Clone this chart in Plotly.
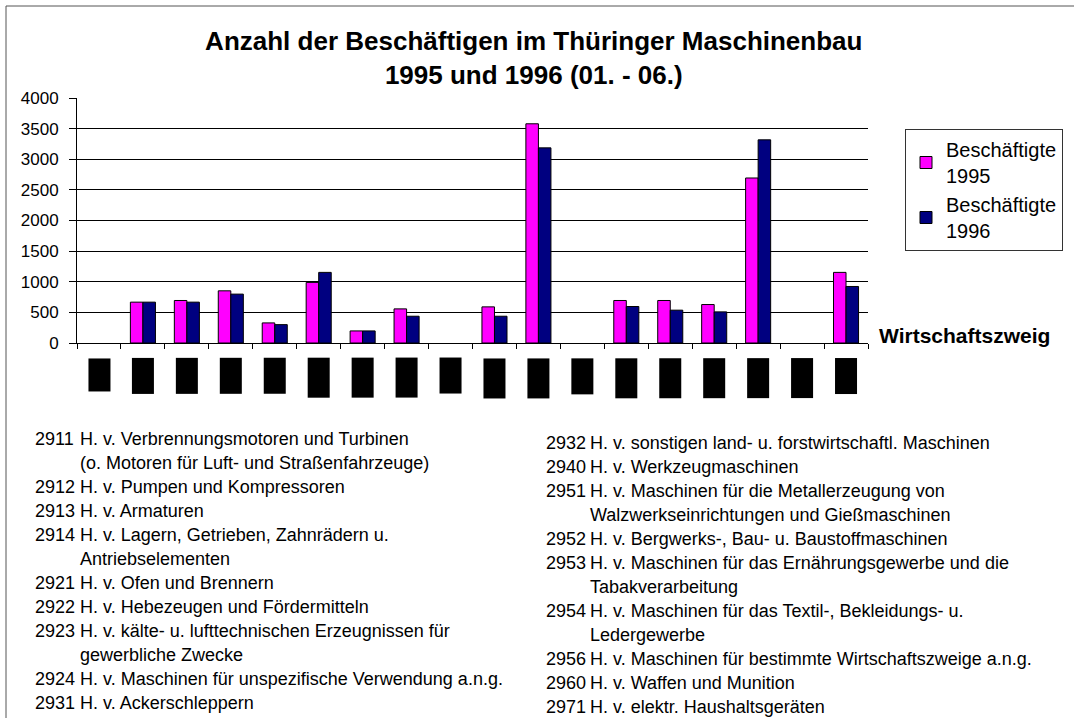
import plotly.graph_objects as go

# ---------------- data ----------------
codes = ["2911", "2912", "2913", "2914", "2921", "2922", "2923", "2924", "2931",
         "2932", "2940", "2951", "2952", "2953", "2954", "2956", "2960", "2971"]
beschaeftigte_1995 = [None, 667, 694, 852, 328, 989, 197, 557, None,
                      590, 3579, None, 694, 694, 628, 2694, None, 1153]
beschaeftigte_1996 = [None, 667, 667, 798, 300, 1153, 197, 437, None,
                      437, 3186, None, 596, 536, 508, 3317, None, 923]
y_ticks = [0, 500, 1000, 1500, 2000, 2500, 3000, 3500, 4000]

title_text = "Anzahl der Beschäftigen im Thüringer Maschinenbau<br>1995 und 1996 (01. - 06.)"
series_names = ["Beschäftigte<br>1995", "Beschäftigte<br>1996"]
x_title = "Wirtschaftszweig"

legend_left = [
    ("2911", ["H. v. Verbrennungsmotoren und Turbinen", "(o. Motoren für Luft- und Straßenfahrzeuge)"]),
    ("2912", ["H. v. Pumpen und Kompressoren"]),
    ("2913", ["H. v. Armaturen"]),
    ("2914", ["H. v. Lagern, Getrieben, Zahnrädern u.", "Antriebselementen"]),
    ("2921", ["H. v. Ofen und Brennern"]),
    ("2922", ["H. v. Hebezeugen und Fördermitteln"]),
    ("2923", ["H. v. kälte- u. lufttechnischen Erzeugnissen für", "gewerbliche Zwecke"]),
    ("2924", ["H. v. Maschinen für unspezifische Verwendung a.n.g."]),
    ("2931", ["H. v. Ackerschleppern"]),
]
legend_right = [
    ("2932", ["H. v. sonstigen land- u. forstwirtschaftl. Maschinen"]),
    ("2940", ["H. v. Werkzeugmaschinen"]),
    ("2951", ["H. v. Maschinen für die Metallerzeugung von", "Walzwerkseinrichtungen und Gießmaschinen"]),
    ("2952", ["H. v. Bergwerks-, Bau- u. Baustoffmaschinen"]),
    ("2953", ["H. v. Maschinen für das Ernährungsgewerbe und die", "Tabakverarbeitung"]),
    ("2954", ["H. v. Maschinen für das Textil-, Bekleidungs- u.", "Ledergewerbe"]),
    ("2956", ["H. v. Maschinen für bestimmte Wirtschaftszweige a.n.g."]),
    ("2960", ["H. v. Waffen und Munition"]),
    ("2971", ["H. v. elektr. Haushaltsgeräten"]),
]

# ---------------- styles / layout ----------------
W, H = 1074, 718
PL, PR, PT, PB = 77, 868, 98, 343   # plot area in pixels
FONT = "Liberation Sans, Arial, sans-serif"
PINK = "#FF00FF"
NAVY = "#000080"
box_heights = [33, 36, 36, 36, 36, 40, 40, 40, 36, 40, 40, 36, 40, 40, 40, 40, 40, 36]


def px_x(px):
    return (px - PL) / (PR - PL)


def px_y(py):
    return (PB - py) / (PB - PT)


fig = go.Figure()
fig.add_trace(go.Bar(x=codes, y=beschaeftigte_1995, name=series_names[0],
                     marker=dict(color=PINK, line=dict(color="black", width=1))))
fig.add_trace(go.Bar(x=codes, y=beschaeftigte_1996, name=series_names[1],
                     marker=dict(color=NAVY, line=dict(color="black", width=1))))

annotations = []
# black label boxes below the category axis (x = category position index)
for i, (code, h) in enumerate(zip(codes, box_heights)):
    annotations.append(dict(
        x=i, xref="x", y=px_y(358), yref="paper", yanchor="top", xanchor="center",
        text=code, textangle=-90, width=h, height=22, bgcolor="black",
        borderpad=0, borderwidth=0, showarrow=False,
        font=dict(family=FONT, size=10, color="black")))

# axis title at the right end of the category axis
annotations.append(dict(
    x=px_x(877), xref="paper", y=px_y(335), yref="paper", xanchor="left", yanchor="middle",
    text="<b>" + x_title + "</b>", showarrow=False,
    font=dict(family=FONT, size=21, color="black")))

# explanatory code list
FS = 18
PITCH = 24


def add_column(entries, x_code, x_text, y_first):
    row = 0
    for code, lines in entries:
        y = y_first + row * PITCH
        annotations.append(dict(x=px_x(x_code), xref="paper", y=px_y(y), yref="paper",
                                xanchor="left", yanchor="middle", text=code, showarrow=False,
                                font=dict(family=FONT, size=FS, color="black")))
        for ln in lines:
            y = y_first + row * PITCH
            annotations.append(dict(x=px_x(x_text), xref="paper", y=px_y(y), yref="paper",
                                    xanchor="left", yanchor="middle", text=ln, showarrow=False,
                                    font=dict(family=FONT, size=FS, color="black")))
            row += 1


add_column(legend_left, 33, 78, 439)
add_column(legend_right, 544, 588, 443)

fig.update_layout(
    width=W, height=H,
    margin=dict(l=PL, r=W - PR, t=PT, b=H - PB, autoexpand=False),
    paper_bgcolor="white", plot_bgcolor="white",
    font=dict(family=FONT, color="black"),
    title=dict(text=title_text, x=0.497, xref="container", xanchor="center",
               y=1 - 50 / H, yref="container", yanchor="top",
               font=dict(family=FONT, size=26, color="black", weight="bold")),
    barmode="group", bargap=0.43, bargroupgap=0.0,
    showlegend=True,
    legend=dict(x=px_x(905), y=px_y(129), xanchor="left", yanchor="top",
                bordercolor="#333", borderwidth=1, bgcolor="white",
                font=dict(family=FONT, size=20, color="black"),
                tracegroupgap=0),
    annotations=annotations,
    shapes=[dict(type="rect", xref="paper", yref="paper",
                 x0=px_x(6), x1=px_x(1100), y0=px_y(6), y1=px_y(740),
                 line=dict(color="#555", width=1), fillcolor="rgba(0,0,0,0)", layer="below")],
)
fig.update_xaxes(type="category", range=[-0.5, len(codes) - 0.5],
                 showline=True, linecolor="black", linewidth=1,
                 ticks="outside", tickson="boundaries", ticklen=5, tickcolor="black",
                 showticklabels=False, showgrid=False, zeroline=False)
fig.update_yaxes(range=[0, 4000], tickvals=y_ticks, showline=True, linecolor="black",
                 linewidth=1, ticks="outside", ticklen=7, tickcolor="black",
                 ticklabelstandoff=7,
                 showgrid=True, gridcolor="black", gridwidth=1, zeroline=False,
                 tickfont=dict(family=FONT, size=17, color="black"))

fig.write_html("out.html", config={"displayModeBar": False},
               post_script="document.body.style.margin='0';")
